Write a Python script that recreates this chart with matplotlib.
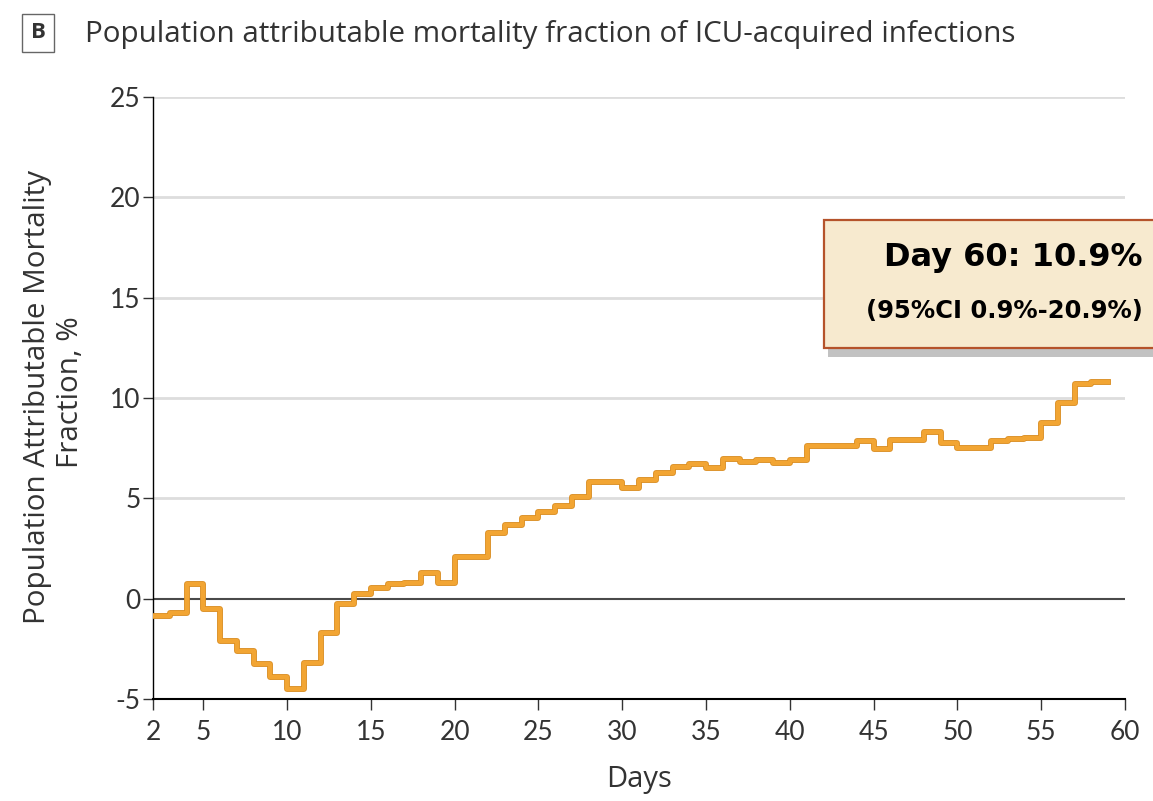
import numpy as np
import matplotlib.pyplot as plt
from matplotlib.patches import Rectangle
import matplotlib.patheffects as pe

plt.rcParams['font.family'] = ['Lato', 'DejaVu Sans']

# step start day and the attributable fraction (%) held until the next day
days = [2, 3, 4, 5, 6, 7, 8, 9, 10, 11, 12, 13, 14, 15, 16, 17, 18, 19, 20,
        21, 22, 23, 24, 25, 26, 27, 28, 29, 30, 31, 32, 33, 34, 35, 36, 37,
        38, 39, 40, 41, 42, 43, 44, 45, 46, 47, 48, 49, 50, 51, 52, 53, 54,
        55, 56, 57, 58, 59]
paf = [-0.85, -0.7, 0.75, -0.5, -2.1, -2.6, -3.25, -3.9, -4.5, -3.2, -1.7,
       -0.25, 0.25, 0.55, 0.75, 0.8, 1.3, 0.8, 2.1, 2.1, 3.25, 3.65, 4.0,
       4.3, 4.6, 5.05, 5.8, 5.8, 5.5, 5.9, 6.25, 6.55, 6.7, 6.5, 6.95, 6.8,
       6.9, 6.75, 6.9, 7.6, 7.6, 7.6, 7.85, 7.45, 7.9, 7.9, 8.3, 7.75, 7.5,
       7.5, 7.85, 7.95, 8.0, 8.75, 9.75, 10.7, 10.8, 10.8]

xticks = [2, 5, 10, 15, 20, 25, 30, 35, 40, 45, 50, 55, 60]
yticks = [-5, 0, 5, 10, 15, 20, 25]

title = 'Population attributable mortality fraction of ICU-acquired infections'
note1 = 'Day 60: 10.9%'
note2 = '(95%CI 0.9%-20.9%)'

W, H = 1153, 801
fig = plt.figure(figsize=(W / 100, H / 100), dpi=100)
ax = fig.add_axes([153 / W, 1 - 699 / H, (1125 - 153) / W, (699 - 97) / H])

txt = '#333333'
lab_font = ['Open Sans', 'DejaVu Sans']

for y in yticks[2:]:
    ax.axhline(y, color='#dddddd', lw=2, zorder=1)
ax.axhline(0, color='#4a4a4a', lw=1.5, zorder=2)

ax.step(days, paf, where='post', color='#f2a533', lw=3, zorder=3,
        path_effects=[pe.Stroke(linewidth=4.2, foreground='#d98c20'), pe.Normal()])

ax.set_xlim(2, 60)
ax.set_ylim(-5, 25)
ax.set_xticks(xticks)
ax.set_yticks(yticks)
ax.set_yticklabels([str(v) for v in yticks])
for s in ['top', 'right']:
    ax.spines[s].set_visible(False)
ax.spines['left'].set_linewidth(1)
ax.spines['bottom'].set_linewidth(1.5)
ax.tick_params(axis='x', length=8, width=1, direction='out', labelsize=19,
               pad=7, colors=txt)
ax.tick_params(axis='y', length=7, width=1, direction='out', labelsize=19,
               pad=2, colors=txt)

# panel tag and title
fig.text(38 / W, 1 - 33 / H, 'B', fontsize=16, fontweight='bold', color=txt,
         ha='center', va='center', family=lab_font,
         bbox=dict(boxstyle='square,pad=0.38', fc='white', ec='#666666', lw=1))
fig.text(85 / W, 1 - 42 / H, title, fontsize=21.3, color=txt, ha='left',
         va='baseline', family=lab_font)

fig.text(639 / W, 1 - 780 / H, 'Days', fontsize=21, color=txt, ha='center',
         va='center', family=lab_font)
fig.text(38 / W, 1 - 397 / H, 'Population Attributable Mortality', fontsize=21.3,
         color=txt, rotation=90, ha='center', va='center', family=lab_font)
fig.text(70 / W, 1 - 392 / H, 'Fraction, %', fontsize=21.3, color=txt,
         rotation=90, ha='center', va='center', family=lab_font)

# highlighted result box
bx0, by0, bx1, by1 = 824, 220, 1165, 348
fig.patches.append(Rectangle(((bx0 + 4) / W, 1 - (by1 + 9) / H), (bx1 - bx0) / W,
                             (by1 - by0) / H, transform=fig.transFigure,
                             facecolor='#a8a8a8', edgecolor='none', alpha=0.7, zorder=5))
fig.patches.append(Rectangle((bx0 / W, 1 - by1 / H), (bx1 - bx0) / W, (by1 - by0) / H,
                             transform=fig.transFigure, facecolor='#f7eacf',
                             edgecolor='#b5532b', lw=1.6, zorder=6))
fig.text(1143 / W, 1 - 266 / H, note1, fontsize=23, fontweight='bold', color='black',
         ha='right', va='baseline', zorder=7, family='DejaVu Sans')
fig.text(1143 / W, 1 - 318 / H, note2, fontsize=17.5, fontweight='bold', color='black',
         ha='right', va='baseline', zorder=7, family='DejaVu Sans')

fig.savefig('out.png', dpi=100)
